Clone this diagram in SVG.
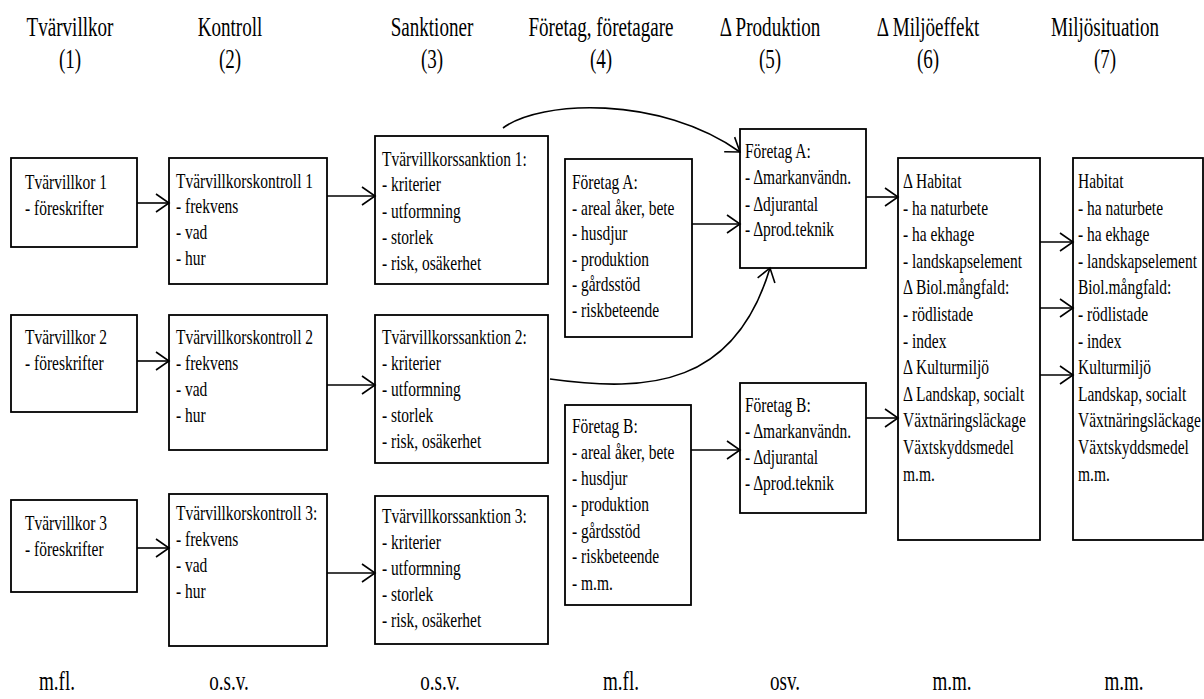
<svg xmlns="http://www.w3.org/2000/svg" width="1204" height="699" viewBox="0 0 1204 699">
<style>
text{font-family:"Liberation Serif","Times New Roman",serif;fill:#000}
.b{font-size:21.5px}
.h{font-size:26.5px;text-anchor:middle}
.box{fill:#fff;stroke:#000;stroke-width:1.8}
.c{fill:none;stroke:#000;stroke-width:1.6}
</style>
<defs>
<marker id="ah" markerUnits="userSpaceOnUse" markerWidth="16" markerHeight="20" refX="13" refY="9" orient="auto" overflow="visible">
<path d="M0,0 L13,9 L0,18" fill="none" stroke="#000" stroke-width="1.6"/>
</marker>
</defs>
<rect width="1204" height="699" fill="#fff"/>

<g id="headers">
<g transform="translate(70,0) scale(0.72,1)"><text class="h" x="0" y="36">Tvärvillkor</text><text class="h" x="0" y="68">(1)</text></g>
<g transform="translate(230,0) scale(0.72,1)"><text class="h" x="0" y="36">Kontroll</text><text class="h" x="0" y="68">(2)</text></g>
<g transform="translate(432,0) scale(0.72,1)"><text class="h" x="0" y="36">Sanktioner</text><text class="h" x="0" y="68">(3)</text></g>
<g transform="translate(601,0) scale(0.72,1)"><text class="h" x="0" y="36">Företag, företagare</text><text class="h" x="0" y="68">(4)</text></g>
<g transform="translate(770,0) scale(0.72,1)"><text class="h" x="0" y="36">Δ Produktion</text><text class="h" x="0" y="68">(5)</text></g>
<g transform="translate(928,0) scale(0.72,1)"><text class="h" x="0" y="36">Δ Miljöeffekt</text><text class="h" x="0" y="68">(6)</text></g>
<g transform="translate(1105,0) scale(0.72,1)"><text class="h" x="0" y="36">Miljösituation</text><text class="h" x="0" y="68">(7)</text></g>
</g>

<g id="footers">
<g transform="translate(57,0) scale(0.72,1)"><text class="h" x="0" y="690">m.fl.</text></g>
<g transform="translate(229,0) scale(0.72,1)"><text class="h" x="0" y="690">o.s.v.</text></g>
<g transform="translate(440,0) scale(0.72,1)"><text class="h" x="0" y="690">o.s.v.</text></g>
<g transform="translate(621,0) scale(0.72,1)"><text class="h" x="0" y="690">m.fl.</text></g>
<g transform="translate(785,0) scale(0.72,1)"><text class="h" x="0" y="690">osv.</text></g>
<g transform="translate(952,0) scale(0.72,1)"><text class="h" x="0" y="690">m.m.</text></g>
<g transform="translate(1124,0) scale(0.72,1)"><text class="h" x="0" y="690">m.m.</text></g>
</g>

<g id="b1"><rect class="box" x="11" y="158" width="126" height="89"/>
<g transform="translate(25,0) scale(0.72,1)"><text class="b" x="0" y="189">Tvärvillkor 1</text><text class="b" x="0" y="215">- föreskrifter</text></g></g>
<g id="b2"><rect class="box" x="11" y="315" width="126" height="97"/>
<g transform="translate(25,0) scale(0.72,1)"><text class="b" x="0" y="344">Tvärvillkor 2</text><text class="b" x="0" y="370">- föreskrifter</text></g></g>
<g id="b3"><rect class="box" x="11" y="500" width="126" height="92"/>
<g transform="translate(25,0) scale(0.72,1)"><text class="b" x="0" y="530">Tvärvillkor 3</text><text class="b" x="0" y="556">- föreskrifter</text></g></g>

<g id="c1"><rect class="box" x="169" y="158" width="158" height="126"/>
<g transform="translate(176,0) scale(0.72,1)"><text class="b" x="0" y="188">Tvärvillkorskontroll 1</text><text class="b" x="0" y="213">- frekvens</text><text class="b" x="0" y="239">- vad</text><text class="b" x="0" y="265">- hur</text></g></g>
<g id="c2"><rect class="box" x="169" y="315" width="158" height="135"/>
<g transform="translate(176,0) scale(0.72,1)"><text class="b" x="0" y="344">Tvärvillkorskontroll 2</text><text class="b" x="0" y="370">- frekvens</text><text class="b" x="0" y="396">- vad</text><text class="b" x="0" y="422">- hur</text></g></g>
<g id="c3"><rect class="box" x="169" y="494" width="158" height="152"/>
<g transform="translate(176,0) scale(0.72,1)"><text class="b" x="0" y="520">Tvärvillkorskontroll 3:</text><text class="b" x="0" y="546">- frekvens</text><text class="b" x="0" y="572">- vad</text><text class="b" x="0" y="598">- hur</text></g></g>

<g id="s1"><rect class="box" x="375" y="136" width="173" height="148"/>
<g transform="translate(382,0) scale(0.72,1)"><text class="b" x="0" y="166">Tvärvillkorssanktion 1:</text><text class="b" x="0" y="191">- kriterier</text><text class="b" x="0" y="218">- utformning</text><text class="b" x="0" y="244">- storlek</text><text class="b" x="0" y="270">- risk, osäkerhet</text></g></g>
<g id="s2"><rect class="box" x="375" y="315" width="173" height="148"/>
<g transform="translate(382,0) scale(0.72,1)"><text class="b" x="0" y="344">Tvärvillkorssanktion 2:</text><text class="b" x="0" y="370">- kriterier</text><text class="b" x="0" y="396">- utformning</text><text class="b" x="0" y="422">- storlek</text><text class="b" x="0" y="448">- risk, osäkerhet</text></g></g>
<g id="s3"><rect class="box" x="375" y="496" width="173" height="148"/>
<g transform="translate(382,0) scale(0.72,1)"><text class="b" x="0" y="523">Tvärvillkorssanktion 3:</text><text class="b" x="0" y="549">- kriterier</text><text class="b" x="0" y="575">- utformning</text><text class="b" x="0" y="601">- storlek</text><text class="b" x="0" y="627">- risk, osäkerhet</text></g></g>

<g id="f4a"><rect class="box" x="565" y="159" width="127" height="178"/>
<g transform="translate(572,0) scale(0.72,1)"><text class="b" x="0" y="189">Företag A:</text><text class="b" x="0" y="215">- areal åker, bete</text><text class="b" x="0" y="240">- husdjur</text><text class="b" x="0" y="266">- produktion</text><text class="b" x="0" y="291">- gårdsstöd</text><text class="b" x="0" y="317">- riskbeteende</text></g></g>
<g id="f4b"><rect class="box" x="565" y="405" width="126" height="200"/>
<g transform="translate(572,0) scale(0.72,1)"><text class="b" x="0" y="433">Företag B:</text><text class="b" x="0" y="459">- areal åker, bete</text><text class="b" x="0" y="485">- husdjur</text><text class="b" x="0" y="511">- produktion</text><text class="b" x="0" y="538">- gårdsstöd</text><text class="b" x="0" y="563">- riskbeteende</text><text class="b" x="0" y="590">- m.m.</text></g></g>

<g id="f5a"><rect class="box" x="740" y="129" width="126" height="139"/>
<g transform="translate(745,0) scale(0.72,1)"><text class="b" x="0" y="158">Företag A:</text><text class="b" x="0" y="184">- Δmarkanvändn.</text><text class="b" x="0" y="211">- Δdjurantal</text><text class="b" x="0" y="236">- Δprod.teknik</text></g></g>
<g id="f5b"><rect class="box" x="740" y="383" width="126" height="130"/>
<g transform="translate(745,0) scale(0.72,1)"><text class="b" x="0" y="412">Företag B:</text><text class="b" x="0" y="438">- Δmarkanvändn.</text><text class="b" x="0" y="464">- Δdjurantal</text><text class="b" x="0" y="490">- Δprod.teknik</text></g></g>

<g id="m6"><rect class="box" x="898" y="158" width="142" height="382"/>
<g transform="translate(903,0) scale(0.72,1)"><text class="b" x="0" y="188">Δ Habitat</text><text class="b" x="0" y="214.6">- ha naturbete</text><text class="b" x="0" y="241.2">- ha ekhage</text><text class="b" x="0" y="267.8">- landskapselement</text><text class="b" x="0" y="294.4">Δ Biol.mångfald:</text><text class="b" x="0" y="321">- rödlistade</text><text class="b" x="0" y="347.6">- index</text><text class="b" x="0" y="374.2">Δ Kulturmiljö</text><text class="b" x="0" y="400.8">Δ Landskap, socialt</text><text class="b" x="0" y="427.4">Växtnäringsläckage</text><text class="b" x="0" y="454">Växtskyddsmedel</text><text class="b" x="0" y="480.6">m.m.</text></g></g>
<g id="m7"><rect class="box" x="1073" y="158" width="130" height="382"/>
<g transform="translate(1078,0) scale(0.72,1)"><text class="b" x="0" y="188">Habitat</text><text class="b" x="0" y="214.6">- ha naturbete</text><text class="b" x="0" y="241.2">- ha ekhage</text><text class="b" x="0" y="267.8">- landskapselement</text><text class="b" x="0" y="294.4">Biol.mångfald:</text><text class="b" x="0" y="321">- rödlistade</text><text class="b" x="0" y="347.6">- index</text><text class="b" x="0" y="374.2">Kulturmiljö</text><text class="b" x="0" y="400.8">Landskap, socialt</text><text class="b" x="0" y="427.4">Växtnäringsläckage</text><text class="b" x="0" y="454">Växtskyddsmedel</text><text class="b" x="0" y="480.6">m.m.</text></g></g>

<g id="connectors">
<line class="c" x1="137" y1="203" x2="169" y2="203" marker-end="url(#ah)"/>
<line class="c" x1="327" y1="196" x2="375" y2="196" marker-end="url(#ah)"/>
<line class="c" x1="137" y1="361" x2="169" y2="361" marker-end="url(#ah)"/>
<line class="c" x1="327" y1="385" x2="375" y2="385" marker-end="url(#ah)"/>
<line class="c" x1="137" y1="548" x2="169" y2="548" marker-end="url(#ah)"/>
<line class="c" x1="327" y1="573" x2="375" y2="573" marker-end="url(#ah)"/>
<line class="c" x1="692" y1="224" x2="740" y2="224" marker-end="url(#ah)"/>
<line class="c" x1="691" y1="450" x2="740" y2="450" marker-end="url(#ah)"/>
<line class="c" x1="866" y1="197" x2="898" y2="197" marker-end="url(#ah)"/>
<line class="c" x1="866" y1="418" x2="898" y2="418" marker-end="url(#ah)"/>
<line class="c" x1="1040" y1="242" x2="1073" y2="242" marker-end="url(#ah)"/>
<line class="c" x1="1040" y1="308" x2="1073" y2="308" marker-end="url(#ah)"/>
<line class="c" x1="1040" y1="375" x2="1073" y2="375" marker-end="url(#ah)"/>
<path class="c" d="M503,128 C540,100 660,95 740,152" marker-end="url(#ah)"/>
<path class="c" d="M550,379 C650,393 735,385 770,268" marker-end="url(#ah)"/>
</g>
</svg>
